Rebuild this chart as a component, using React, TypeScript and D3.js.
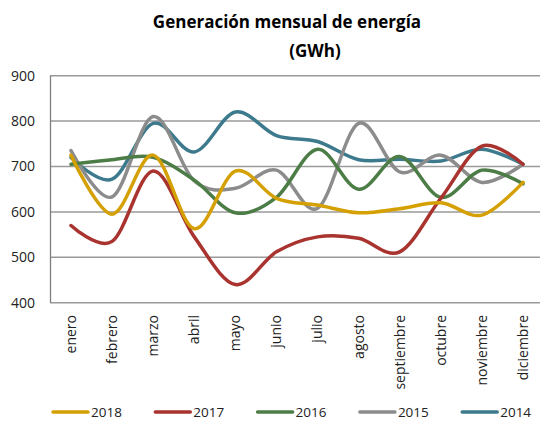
import * as d3 from "d3";

const months = ["enero", "febrero", "marzo", "abril", "mayo", "junio", "julio", "agosto", "septiembre", "octubre", "noviembre", "diciembre"];
const yTicks = [400, 500, 600, 700, 800, 900];

const s2018 = [725, 595, 725, 563, 690, 630, 615, 598, 607, 620, 593, 665];
const s2017 = [570, 535, 690, 545, 440, 512, 545, 542, 512, 630, 745, 705];
const s2016 = [705, 715, 720, 670, 598, 632, 738, 650, 722, 632, 692, 662];
const s2015 = [735, 633, 810, 668, 652, 692, 608, 795, 688, 725, 665, 705];
const s2014 = [720, 672, 795, 732, 820, 768, 755, 715, 716, 712, 738, 705];

const seriesNames = ["2018", "2017", "2016", "2015", "2014"];
const seriesColors = ["#D4A004", "#A8332F", "#4D7D47", "#8C8C8C", "#3E7A8D"];

const W = 540;
const H = 421;

export default function App() {
  const series = [s2018, s2017, s2016, s2015, s2014];

  const x = d3.scalePoint<string>().domain(months).range([71, 523]);
  const y = d3.scaleLinear().domain([400, 900]).range([302.7, 75.7]);

  const line = d3
    .line<number>()
    .x((_, i) => x(months[i]) as number)
    .y((d) => y(d))
    .curve(d3.curveCardinal.tension(0));

  const font = "'Open Sans', sans-serif";

  return (
    <svg width={W} height={H} style={{ position: "absolute", left: 0, top: 0 }}>
      <rect width={W} height={H} fill="#fff" />
      {/* title */}
      <text x={287} y={28} textAnchor="middle" fontFamily={font} fontWeight="bold" fontSize={17} fill="#000">
        Generación mensual de energía
      </text>
      <text x={315} y={57} textAnchor="middle" fontFamily={font} fontWeight="bold" fontSize={17} fill="#000">
        (GWh)
      </text>

      {/* grid */}
      {yTicks.map((t) => (
        <g key={t}>
          <line x1={50} x2={W} y1={y(t)} y2={y(t)} stroke="#9a9a9a" strokeWidth={1.5} />
          <text x={35} y={y(t)} dy="0.35em" textAnchor="end" fontFamily={font} fontSize={14} fill="#222">
            {t}
          </text>
        </g>
      ))}
      <line x1={50.5} x2={50.5} y1={y(900)} y2={y(400)} stroke="#7f7f7f" strokeWidth={1.3} />

      {/* x labels */}
      {months.map((m) => (
        <text
          key={m}
          transform={`translate(${x(m)},315) rotate(-90)`}
          textAnchor="end"
          dy="0.35em"
          fontFamily={font}
          fontSize={14}
          fill="#222"
        >
          {m}
        </text>
      ))}

      {/* lines, drawn 2014 first so 2018 sits on top */}
      {series
        .map((s, i) => ({ s, i }))
        .reverse()
        .map(({ s, i }) => (
          <path
            key={seriesNames[i]}
            d={line(s) || ""}
            fill="none"
            stroke={seriesColors[i]}
            strokeWidth={3.5}
            strokeLinecap="round"
            strokeLinejoin="round"
          />
        ))}

      {/* legend */}
      {seriesNames.map((n, i) => {
        const lx = 53 + i * 102.3;
        return (
          <g key={n}>
            <line x1={lx} x2={lx + 35} y1={412} y2={412} stroke={seriesColors[i]} strokeWidth={3.5} strokeLinecap="round" />
            <text x={lx + 38} y={417} fontFamily={font} fontSize={13.5} fill="#222">
              {n}
            </text>
          </g>
        );
      })}
    </svg>
  );
}
